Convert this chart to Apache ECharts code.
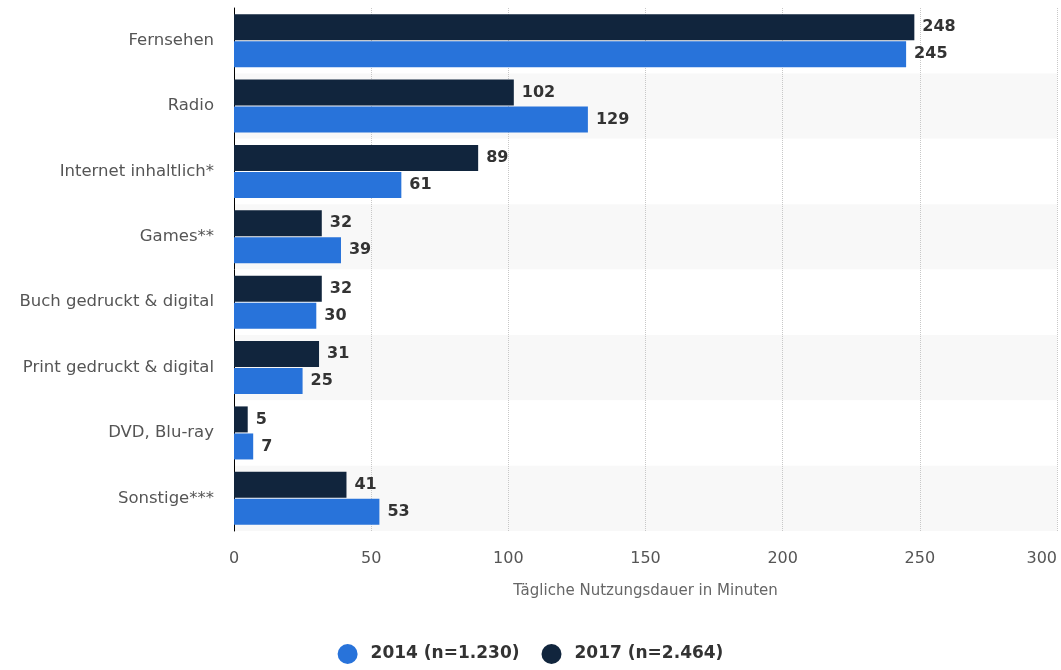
<!DOCTYPE html>
<html>
<head>
<meta charset="utf-8">
<script src="https://cdn.jsdelivr.net/npm/echarts@6/dist/echarts.min.js"></script>
<style>
html, body { margin: 0; padding: 0; background: #fff; }
#main { width: 1061px; height: 670px; }
</style>
</head>
<body>
<div id="main"></div>
<script>
// Kategorien von oben nach unten
var categories = ['Fernsehen', 'Radio', 'Internet inhaltlich*', 'Games**', 'Buch gedruckt & digital', 'Print gedruckt & digital', 'DVD, Blu-ray', 'Sonstige***'];
var values2014 = [245, 129, 61, 39, 30, 25, 7, 53];
var values2017 = [248, 102, 89, 32, 32, 31, 5, 41];
var xTicks = [0, 50, 100, 150, 200, 250, 300];

var myChart = echarts.init(document.getElementById('main'));

var font = '"DejaVu Sans", Verdana, sans-serif';

var labelStyle = {
    show: true,
    position: 'right',
    distance: 8,
    color: '#333',
    fontWeight: 'bold',
    fontSize: 16,
    fontFamily: font
};

var option = {
    animation: false,
    grid: { left: 234, right: 4, top: 8, bottom: 139 },
    legend: {
        bottom: 1,
        left: 'center',
        icon: 'circle',
        itemWidth: 20,
        itemHeight: 20,
        itemGap: 22,
        data: ['2014 (n=1.230)', '2017 (n=2.464)'],
        textStyle: { fontSize: 17, fontWeight: 'bold', color: '#333', fontFamily: font, padding: [0, 0, 0, 8] }
    },
    xAxis: {
        type: 'value',
        min: xTicks[0],
        max: xTicks[xTicks.length - 1],
        interval: 50,
        name: 'Tägliche Nutzungsdauer in Minuten',
        nameLocation: 'middle',
        nameGap: 53,
        nameTextStyle: { color: '#666', fontSize: 15, fontFamily: font },
        axisLine: { show: false },
        axisTick: { show: false },
        axisLabel: { color: '#555', fontSize: 16, margin: 20, fontFamily: font, alignMaxLabel: 'right' },
        splitLine: { show: true, lineStyle: { color: '#c8c8c8', type: 'dotted', width: 1 } }
    },
    yAxis: {
        type: 'category',
        inverse: true,
        data: categories,
        axisLine: { show: true, lineStyle: { color: '#000', width: 1 } },
        axisTick: { show: false },
        axisLabel: { color: '#555', fontSize: 16.5, margin: 20, fontFamily: font },
        splitArea: { show: true, areaStyle: { color: ['#ffffff', '#f8f8f8'] } }
    },
    series: [{
        name: '2017 (n=2.464)',
        type: 'bar',
        data: values2017,
        barWidth: 26,
        barGap: '4%',
        itemStyle: { color: '#11253d' },
        label: labelStyle
    }, {
        name: '2014 (n=1.230)',
        type: 'bar',
        data: values2014,
        barWidth: 26,
        barGap: '4%',
        itemStyle: { color: '#2873da' },
        label: labelStyle
    }]
};

myChart.setOption(option);
</script>
</body>
</html>
